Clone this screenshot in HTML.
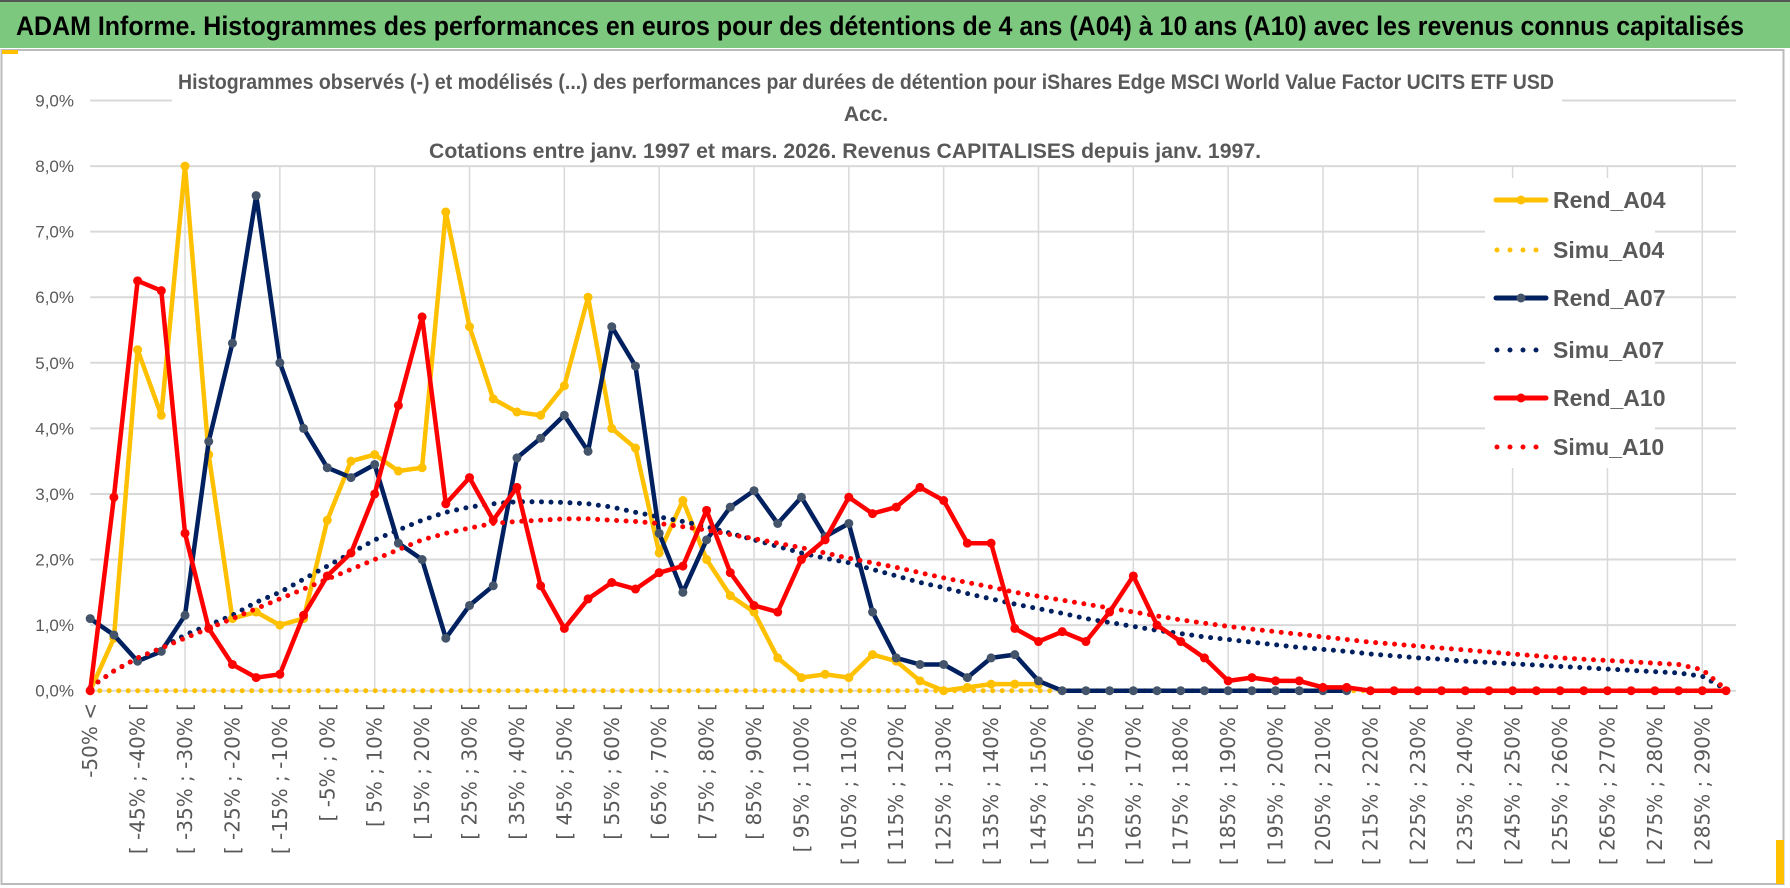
<!DOCTYPE html>
<html><head><meta charset="utf-8"><style>
html,body{margin:0;padding:0;background:#fff;}
svg{display:block;}
</style></head><body>
<svg id="chart" width="1790" height="888" viewBox="0 0 1790 888" xmlns="http://www.w3.org/2000/svg">
  <rect x="0" y="0" width="1790" height="888" fill="#fff"/>
  <rect x="0" y="0" width="1790" height="48" fill="#7DC87F"/>
  <line x1="0" y1="1" x2="1790" y2="1" stroke="#555" stroke-width="2"/>
  <text x="16" y="35" font-family="'Liberation Sans Narrow','Liberation Sans',sans-serif" font-weight="bold" font-size="27" fill="#000" textLength="1728" lengthAdjust="spacingAndGlyphs">ADAM Informe. Histogrammes des performances en euros pour des détentions de 4 ans (A04) à 10 ans (A10) avec les revenus connus capitalisés</text>
  <rect x="1.5" y="50" width="1782" height="834" fill="none" stroke="#bbb" stroke-width="2"/>
  <rect x="1776" y="840" width="8" height="44" fill="#FFC000"/>
  <rect x="2" y="50" width="16" height="4" fill="#FFC000"/>
  <g id="grid"></g>
  <rect x="172" y="55" width="1390" height="93" fill="#fff"/>
  <g font-family="'Liberation Sans Narrow','Liberation Sans',sans-serif" font-weight="bold" font-size="21" fill="#595959" text-anchor="middle">
    <text x="866" y="89" textLength="1376" lengthAdjust="spacingAndGlyphs">Histogrammes observés (-) et modélisés (...) des performances par durées de détention pour iShares Edge MSCI World Value Factor UCITS ETF USD</text>
    <text x="866" y="121">Acc.</text>
    <text x="845" y="158" textLength="832" lengthAdjust="spacingAndGlyphs">Cotations entre janv. 1997 et mars. 2026. Revenus CAPITALISES depuis janv. 1997.</text>
  </g>
  <g id="yaxis"></g>
  <g id="xaxis"></g>
  <g id="series"></g>
  <g id="legend"></g>
</svg>
<script>
const yTicks = [0,1,2,3,4,5,6,7,8,9];
const yTickLabels = ["0,0%","1,0%","2,0%","3,0%","4,0%","5,0%","6,0%","7,0%","8,0%","9,0%"];
const seriesNames = ["Rend_A04","Simu_A04","Rend_A07","Simu_A07","Rend_A10","Simu_A10"];
const rendA04 = [0,0.8,5.2,4.2,8.0,3.6,1.1,1.2,1.0,1.1,
  2.6,3.5,3.6,3.35,3.4,7.3,5.55,4.45,4.25,4.2,
  4.65,6.0,4.0,3.7,2.1,2.9,2.0,1.45,1.2,0.5,
  0.2,0.25,0.2,0.55,0.45,0.15,0.0,0.05,0.1,0.1,
  0.1];
const simuA04 = [0,0,0,0,0,0,0,0,0,0, 0,0,0,0,0,0,0,0,0,0, 0,0,0,0,0,0,0,0,0,0,
  0,0,0,0,0,0,0,0,0,0, 0,0,0,0,0,0,0,0,0,0, 0,0,0,0,0,0,0,0,0,0, 0,0,0,0,0,0,0,0,0,0];
const rendA07 = [1.1,0.85,0.45,0.6,1.15,3.8,5.3,7.55,5.0,4.0,
  3.4,3.25,3.45,2.25,2.0,0.8,1.3,1.6,3.55,3.85,
  4.2,3.65,5.55,4.95,2.4,1.5,2.3,2.8,3.05,2.55,
  2.95,2.35,2.55,1.2,0.5,0.4,0.4,0.2,0.5,0.55,
  0.15,0,0,0,0,0,0,0,0,0,
  0,0,0,0];
const simuA07 = [0.05,0.3,0.5,0.65,0.85,1.0,1.15,1.35,1.5,1.7,
  1.9,2.1,2.3,2.45,2.6,2.72,2.8,2.85,2.88,2.88,
  2.87,2.85,2.8,2.72,2.65,2.58,2.5,2.4,2.3,2.2,
  2.1,2.02,1.95,1.85,1.75,1.65,1.57,1.48,1.4,1.32,
  1.25,1.18,1.1,1.04,0.98,0.92,0.87,0.82,0.78,0.74,
  0.7,0.66,0.63,0.6,0.56,0.53,0.5,0.48,0.45,0.43,
  0.41,0.39,0.37,0.35,0.33,0.31,0.29,0.27,0.22,0.02];
const rendA10 = [0,2.95,6.25,6.1,2.4,0.95,0.4,0.2,0.25,1.15,
  1.75,2.1,3.0,4.35,5.7,2.85,3.25,2.6,3.1,1.6,
  0.95,1.4,1.65,1.55,1.8,1.9,2.75,1.8,1.3,1.2,
  2.0,2.3,2.95,2.7,2.8,3.1,2.9,2.25,2.25,0.95,
  0.75,0.9,0.75,1.2,1.75,1.0,0.75,0.5,0.15,0.2,
  0.15,0.15,0.05,0.05,0,0,0,0,0,0,
  0,0,0,0,0,0,0,0,0,0];
const simuA10 = [0.05,0.3,0.5,0.65,0.8,0.95,1.1,1.25,1.4,1.55,
  1.7,1.85,2.0,2.15,2.3,2.4,2.48,2.55,2.58,2.6,
  2.62,2.62,2.6,2.58,2.55,2.5,2.45,2.38,2.32,2.25,
  2.18,2.1,2.02,1.95,1.88,1.8,1.72,1.65,1.58,1.5,
  1.44,1.38,1.32,1.26,1.2,1.14,1.08,1.03,0.98,0.94,
  0.9,0.86,0.82,0.78,0.74,0.71,0.68,0.65,0.62,0.59,
  0.56,0.53,0.5,0.48,0.46,0.44,0.42,0.4,0.32,0.02];
const categories = ["-50% <"];
for (let k = -50; k < 295; k += 5) categories.push("[ " + k + "% ; " + (k + 5) + "% [");
categories.length = 70;

const NS = "http://www.w3.org/2000/svg";
const X0 = 90.2, X1 = 1726, Y0 = 690.7, Y9 = 100.5;
const n = 70;
function xs(i){ return X0 + (X1 - X0) * i / (n - 1); }
function ys(v){ return Y0 - (Y0 - Y9) * v / 9; }
function mk(tag, attrs, parent){ const e = document.createElementNS(NS, tag); for (const k in attrs) e.setAttribute(k, attrs[k]); parent.appendChild(e); return e; }

const grid = document.getElementById('grid');
yTicks.forEach(t => {
  const l = mk('line', {x1: X0, x2: X1 + 10, y1: ys(t), y2: ys(t), stroke: '#d9d9d9', 'stroke-width': 2}, grid);
  
  
});
for (let i = 4; i < n; i += 4) {
  const l = mk('line', {x1: xs(i), x2: xs(i), y1: ys(8), y2: Y0, stroke: '#d9d9d9', 'stroke-width': 1.5}, grid);
  
  
}
const yaxis = document.getElementById('yaxis');
yTicks.forEach((t, j) => {
  const tx = mk('text', {x: 74, y: ys(t) + 6, 'text-anchor': 'end', 'font-family': "'Liberation Sans Narrow','Liberation Sans',sans-serif", 'font-size': 17, fill: '#595959'}, yaxis);
  tx.textContent = yTickLabels[j];
  
  
});
const xaxis = document.getElementById('xaxis');
for (let i = 0; i < n; i += 2) {
  const x = xs(i) + 7, y = 703;
  const tx = mk('text', {x: x, y: y, transform: 'rotate(-90 ' + x + ' ' + y + ')', 'text-anchor': 'end', 'font-family': "'DejaVu Sans',sans-serif", 'font-size': 20, fill: '#595959'}, xaxis);
  tx.textContent = categories[i];
  
  
}

const ser = document.getElementById('series');
function pathOf(arr){ return arr.map((v, i) => (i ? 'L' : 'M') + xs(i).toFixed(1) + ' ' + ys(v).toFixed(1)).join(' '); }
function solid(arr, color, marker, name){
  const g = mk('g', {}, ser);
  
  
  mk('path', {d: pathOf(arr), fill: 'none', stroke: color, 'stroke-width': 4.5, 'stroke-linejoin': 'round', 'stroke-linecap': 'round'}, g);
  arr.forEach((v, i) => {
    const c = mk('circle', {cx: xs(i), cy: ys(v), r: 4.5, fill: marker}, g);
    
    
  });
}
function dotted(arr, color, name){
  const p = mk('path', {d: pathOf(arr), fill: 'none', stroke: color, 'stroke-width': 5, 'stroke-linecap': 'round', 'stroke-dasharray': '0 9.5'}, ser);
  
  
}
solid(rendA04, '#FFC000', '#FFC000', 'rend-a04-line');
dotted(simuA04, '#FFC000', 'simu-a04-line');
solid(rendA07, '#002060', '#44546A', 'rend-a07-line');
dotted(simuA07, '#002060', 'simu-a07-line');
solid(rendA10, '#FF0000', '#FF0000', 'rend-a10-line');
dotted(simuA10, '#FF0000', 'simu-a10-line');

const lg = document.getElementById('legend');
const lbg = mk('rect', {x: 1485, y: 178, width: 170, height: 290, fill: '#fff'}, lg);


const legY = [200, 250, 298, 350, 398, 447];
const legColors = ['#FFC000', '#FFC000', '#002060', '#002060', '#FF0000', '#FF0000'];
const legMarkers = ['#FFC000', null, '#44546A', null, '#FF0000', null];
seriesNames.forEach((nm, j) => {
  const g = mk('g', {}, lg);
  
  
  const y = legY[j];
  if (legMarkers[j]) {
    mk('line', {x1: 1496, x2: 1546, y1: y, y2: y, stroke: legColors[j], 'stroke-width': 5, 'stroke-linecap': 'round'}, g);
    mk('circle', {cx: 1521, cy: y, r: 4.5, fill: legMarkers[j]}, g);
  } else {
    mk('line', {x1: 1497, x2: 1537, y1: y, y2: y, stroke: legColors[j], 'stroke-width': 5, 'stroke-linecap': 'round', 'stroke-dasharray': '0 13'}, g);
  }
  const t = mk('text', {x: 1553, y: y + 8, 'font-family': "'Liberation Sans Narrow','Liberation Sans',sans-serif", 'font-weight': 'bold', 'font-size': 23, fill: '#595959'}, g);
  t.textContent = nm;
});
</script>
</body></html>
